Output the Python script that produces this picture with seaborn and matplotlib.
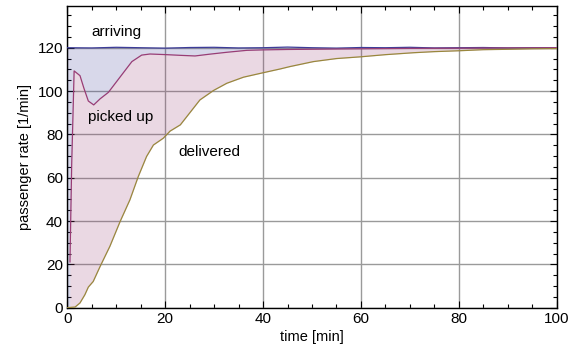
import numpy as np
import pandas as pd
import matplotlib
matplotlib.use("Agg")
import matplotlib.pyplot as plt
from matplotlib.ticker import MultipleLocator
import seaborn as sns

# Passenger flow rates [1/min] over time [min]
arriving_t = [0, 5, 10, 15, 20, 25, 30, 35, 40, 45, 50, 55, 60, 65, 70, 75, 80, 85, 90, 95, 100]
arriving_v = [120.0, 119.9, 120.2, 120.0, 119.8, 120.1, 120.2, 119.9, 120.0, 120.3, 120.0,
              119.8, 120.1, 120.0, 120.2, 119.9, 120.0, 120.1, 119.9, 120.0, 120.0]

picked_t = [0.55, 0.9, 1.4, 2.6, 3.4, 4.3, 5.4, 6.7, 8.4, 11.1, 13.2, 15.2, 16.9, 20.3, 23.0,
            26.1, 29.0, 32.6, 36.7, 40.0, 45.0, 50.0, 55.0, 60.0, 70.0, 80.0, 90.0, 100.0]
picked_v = [21.0, 66.0, 109.3, 107.1, 101.3, 95.4, 93.6, 96.4, 99.4, 107.4, 113.6, 116.6, 117.1,
            116.8, 116.5, 116.2, 117.0, 117.9, 118.8, 119.0, 119.2, 119.3, 119.4, 119.5, 119.7,
            119.8, 119.9, 120.0]

delivered_t = [0, 1.6, 2.6, 3.6, 4.3, 5.3, 6.7, 8.7, 10.8, 12.8, 14.5, 16.2, 17.6, 19.6, 21.0,
               23.1, 24.7, 27.1, 29.9, 32.6, 36.0, 40.1, 43.5, 45.5, 50.3, 55.0, 59.9, 65.0,
               70.8, 75.0, 80.0, 85.0, 90.5, 95.0, 100.0]
delivered_v = [0.0, 0.3, 2.2, 6.0, 9.5, 12.1, 19.0, 28.3, 39.8, 49.8, 60.5, 69.8, 75.1, 78.2,
               81.5, 84.4, 89.0, 95.9, 100.3, 103.6, 106.4, 108.5, 110.2, 111.3, 113.6, 115.0,
               115.8, 116.8, 117.7, 118.2, 118.6, 119.1, 119.3, 119.5, 119.6]

labels = ["arriving", "picked up", "delivered"]
colors = ["#3d3d99", "#993d75", "#99873d"]

df = pd.concat([
    pd.DataFrame({"t": arriving_t, "rate": arriving_v, "stage": labels[0]}),
    pd.DataFrame({"t": picked_t, "rate": picked_v, "stage": labels[1]}),
    pd.DataFrame({"t": delivered_t, "rate": delivered_v, "stage": labels[2]}),
], ignore_index=True)

sns.set_theme(style="ticks")
plt.rcParams["font.family"] = ["Liberation Sans", "DejaVu Sans"]
plt.rcParams["text.color"] = "black"
plt.rcParams["axes.labelcolor"] = "black"

fig = plt.figure(figsize=(5.77, 3.52), dpi=100)
ax = fig.add_axes([0.1166, 0.1259, 0.9648 - 0.1166, 0.9838 - 0.1259])

# fill boundaries on a shared time grid
grid = np.linspace(0, 100, 4001)
arr_g = np.interp(grid, arriving_t, arriving_v)
pick_g = np.interp(grid, [picked_t[0] - 0.01] + picked_t, [0.0] + picked_v, left=0.0)
del_g = np.interp(grid, delivered_t, delivered_v)

ax.fill_between(grid, arr_g, pick_g, color=colors[0], alpha=0.2, lw=0, zorder=1)
ax.fill_between(grid, pick_g, del_g, color=colors[1], alpha=0.2, lw=0, zorder=1)

sns.lineplot(data=df, x="t", y="rate", hue="stage", palette=colors, hue_order=labels,
             sort=False, estimator=None, lw=0.9, legend=False, ax=ax, zorder=3)

ax.set_xlim(0, 100)
ax.set_ylim(0, 139.4)
ax.xaxis.set_major_locator(MultipleLocator(20))
ax.xaxis.set_minor_locator(MultipleLocator(5))
ax.yaxis.set_major_locator(MultipleLocator(20))
ax.yaxis.set_minor_locator(MultipleLocator(5))

ax.grid(True, which="major", color="#9a9a9a", lw=1.0)
ax.set_axisbelow(True)

ax.tick_params(which="both", direction="in", top=True, right=True, colors="black",
               labelcolor="black", labelsize=11, pad=3)
ax.tick_params(which="major", length=5, width=0.8)
ax.tick_params(which="minor", length=3, width=0.8)
for s in ax.spines.values():
    s.set_color("black")
    s.set_linewidth(1.0)

ax.set_xlabel("time [min]", fontsize=10.5, labelpad=3, color="black")
ax.set_ylabel("passenger rate [1/min]", fontsize=10.5, labelpad=4, color="black")

ax.text(10.0, 127.2, "arriving", fontsize=11, ha="center", va="center", color="black")
ax.text(11.0, 88.0, "picked up", fontsize=11, ha="center", va="center", color="black")
ax.text(29.0, 72.0, "delivered", fontsize=11, ha="center", va="center", color="black")

fig.savefig("out.png", dpi=100)
